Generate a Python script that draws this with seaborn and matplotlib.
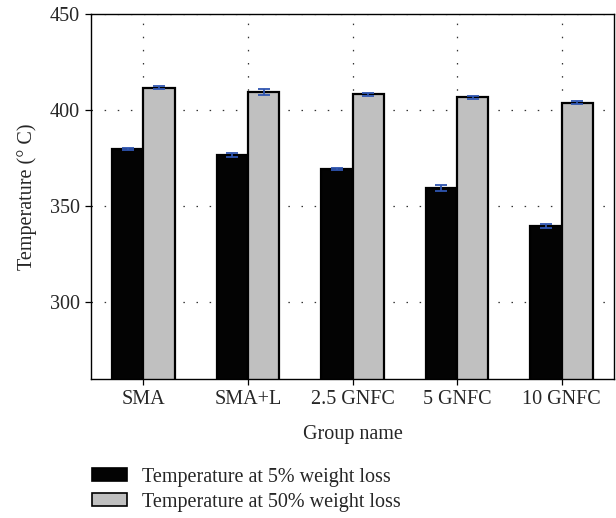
import numpy as np
import pandas as pd
import seaborn as sns
import matplotlib.pyplot as plt
from matplotlib.patches import Patch

# -----------------------------------------------
# data
# -----------------------------------------------
grupos = ["SMA", "SMA+L", "2.5 GNFC", "5 GNFC", "10 GNFC"]
series = ["Temperature at 5% weight loss", "Temperature at 50% weight loss"]
temp_5 = [379.6, 376.4, 369.2, 359.4, 339.7]
temp_50 = [411.6, 409.3, 408.2, 406.6, 403.8]
erro_5 = [0.5, 1.2, 0.5, 1.6, 1.0]
erro_50 = [0.9, 1.4, 0.7, 0.7, 0.6]
yticks = [300, 350, 400, 450]

df = pd.DataFrame({
    "grupo": grupos * 2,
    "serie": [series[0]] * len(grupos) + [series[1]] * len(grupos),
    "temp": temp_5 + temp_50,
})

# -----------------------------------------------
# figure
# -----------------------------------------------
sns.set_theme(style="white")
plt.rcParams["font.family"] = ["Liberation Serif", "DejaVu Serif"]
FS = 14.5

fig = plt.figure(figsize=(6.16, 5.18), dpi=100)
ax = fig.add_axes([91 / 616, 1 - 378.5 / 518, 523 / 616, 364.5 / 518])

cores = {series[0]: "#030303", series[1]: "#c0c0c0"}
sns.barplot(data=df, x="grupo", y="temp", hue="serie", palette=cores,
            width=0.6, errorbar=None, edgecolor="black", linewidth=1.6,
            legend=False, ax=ax, zorder=2)

# error bars on top of each bar
for cont, erros in zip(ax.containers, [erro_5, erro_50]):
    xs = [b.get_x() + b.get_width() / 2 for b in cont]
    hs = [b.get_height() for b in cont]
    ax.errorbar(xs, hs, yerr=erros, fmt="none", ecolor="#2f55b0",
                elinewidth=1.3, capsize=4, capthick=1.3, zorder=3)

ax.set_ylim(260, 450)
ax.set_xlim(-0.5, 4.5)
ax.set_yticks(yticks)
ax.set_axisbelow(True)
ax.grid(True, color="#333333", linestyle=(0, (1.2, 9.3)), linewidth=0.9)

for s in ax.spines.values():
    s.set_visible(True)
    s.set_color("black")
    s.set_linewidth(1.0)

ax.tick_params(axis="both", which="both", direction="out", length=4,
               width=0.9, color="black", labelsize=FS, pad=4,
               left=True, bottom=True)
ax.set_xlabel("Group name", fontsize=FS, labelpad=12)
ax.set_ylabel("Temperature (° C)", fontsize=FS, labelpad=9)

handles = [Patch(facecolor=cores[s], edgecolor="black", linewidth=1.2, label=s)
           for s in series]
fig.legend(handles=handles, loc="upper left", bbox_to_anchor=(0.1324, 0.1166),
           frameon=False, fontsize=FS, handlelength=1.75, handleheight=0.6,
           handletextpad=0.75, labelspacing=0.3, borderpad=0)

plt.savefig("out.png", dpi=100)
